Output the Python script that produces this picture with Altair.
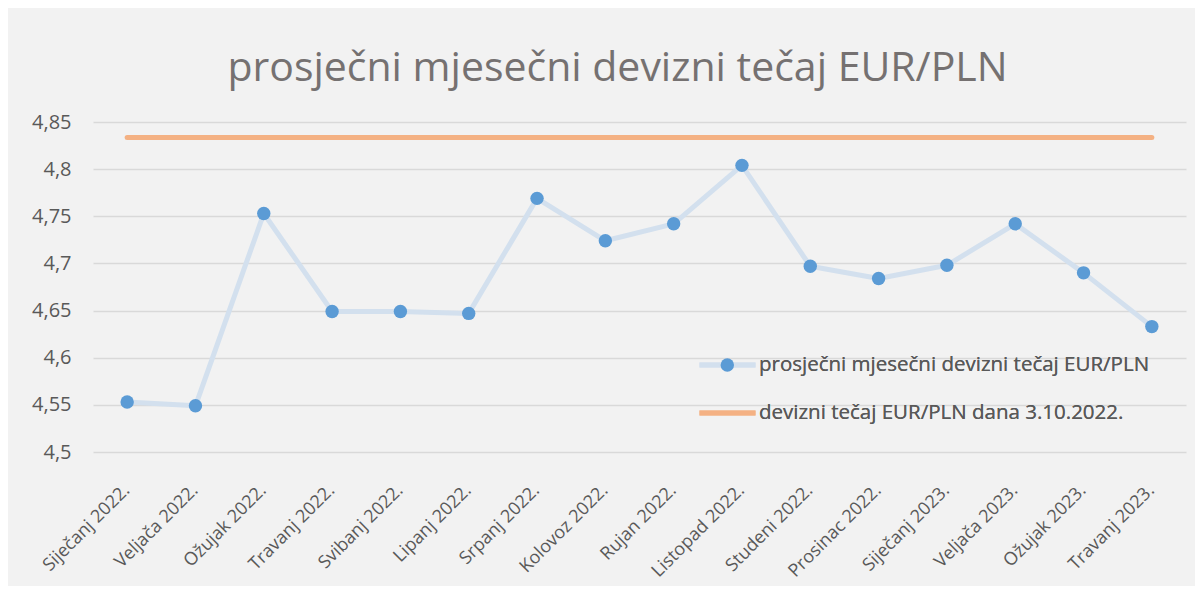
import altair as alt
import pandas as pd

# ---- data ----
months = [
    "Siječanj 2022.", "Veljača 2022.", "Ožujak 2022.", "Travanj 2022.",
    "Svibanj 2022.", "Lipanj 2022.", "Srpanj 2022.", "Kolovoz 2022.",
    "Rujan 2022.", "Listopad 2022.", "Studeni 2022.", "Prosinac 2022.",
    "Siječanj 2023.", "Veljača 2023.", "Ožujak 2023.", "Travanj 2023.",
]
monthly_rate = [
    4.553, 4.549, 4.753, 4.649, 4.649, 4.647, 4.769, 4.724,
    4.742, 4.804, 4.697, 4.684, 4.698, 4.742, 4.690, 4.633,
]
ref_rate = 4.8335  # devizni tečaj na dan 3.10.2022.
y_ticks = [4.5, 4.55, 4.6, 4.65, 4.7, 4.75, 4.8, 4.85]

series_avg = "prosječni mjesečni devizni tečaj EUR/PLN"
series_ref = "devizni tečaj EUR/PLN dana 3.10.2022."
title_text = "prosječni mjesečni devizni tečaj EUR/PLN"

df_avg = pd.DataFrame({"mjesec": months, "tecaj": monthly_rate, "serija": series_avg,
                       "serija_pt": series_avg})
df_ref = pd.DataFrame({"mjesec": [months[0], months[-1]], "tecaj": [ref_rate, ref_rate],
                       "serija": series_ref})

FONT = "Open Sans"
TXT = "#595959"

x_enc = alt.X("mjesec:N", sort=months, scale=alt.Scale(padding=0.5),
              axis=alt.Axis(title=None, labelAngle=-45, labelAlign="right",
                            labelPadding=29, labelOffset=-7, ticks=False,
                            domain=False, grid=False,
                            labelFontSize=18, labelColor=TXT, labelFont=FONT))
y_enc = alt.Y("tecaj:Q", scale=alt.Scale(domain=[4.5, 4.85], zero=False, nice=False),
              axis=alt.Axis(title=None, values=y_ticks, ticks=False, domain=False,
                            grid=True, gridColor="#D9D9D9", gridWidth=1.3,
                            labelPadding=22, labelFontSize=20, labelColor=TXT,
                            labelFont=FONT,
                            labelExpr="replace(format(datum.value, '.2~f'), '.', ',')"))

color_scale = alt.Scale(domain=[series_avg, series_ref], range=["#D3E0EE", "#F4B183"])
color_legend = alt.Legend(title=None, orient="none", legendX=604, legendY=233,
                          symbolType="stroke", symbolSize=3136, symbolStrokeWidth=5,
                          clipHeight=20, rowPadding=27, labelOffset=1, padding=0,
                          labelLimit=0, labelFontSize=20.5, labelColor=TXT,
                          labelFont=FONT)

ref_line = alt.Chart(df_ref).mark_line(strokeWidth=5, strokeCap="round").encode(
    x=x_enc, y=y_enc,
    color=alt.Color("serija:N", scale=color_scale, legend=color_legend),
)
avg_line = alt.Chart(df_avg).mark_line(strokeWidth=5, strokeCap="round",
                                       strokeJoin="round").encode(
    x=x_enc, y=y_enc,
    color=alt.Color("serija:N", scale=color_scale, legend=color_legend),
)
points = alt.Chart(df_avg).mark_point(filled=True, size=180, opacity=1,
                                      strokeWidth=0).encode(
    x=x_enc, y=y_enc,
    fill=alt.Fill("serija_pt:N",
                  scale=alt.Scale(domain=[series_avg], range=["#5B9BD5"]),
                  legend=alt.Legend(title=None, orient="none", legendX=625.3,
                                    legendY=233, symbolType="circle", symbolSize=180,
                                    symbolStrokeWidth=0, clipHeight=20, padding=0,
                                    labelExpr="''", labelFontSize=18)),
)

chart = alt.layer(ref_line, avg_line, points).resolve_legend(
    color="independent", fill="independent"
).properties(
    width=1093, height=330,
    padding={"left": 85, "top": 114, "right": 9, "bottom": 134},
    autosize=alt.AutoSizeParams(type="none"),
    background="#F2F2F2",
    title=alt.TitleParams(title_text, font=FONT, fontSize=41, fontWeight="normal",
                          color="#757171", anchor="middle", dx=-22, offset=22),
).configure_view(stroke=None)

chart.save("out.html", embed_options={"renderer": "svg", "actions": False})
